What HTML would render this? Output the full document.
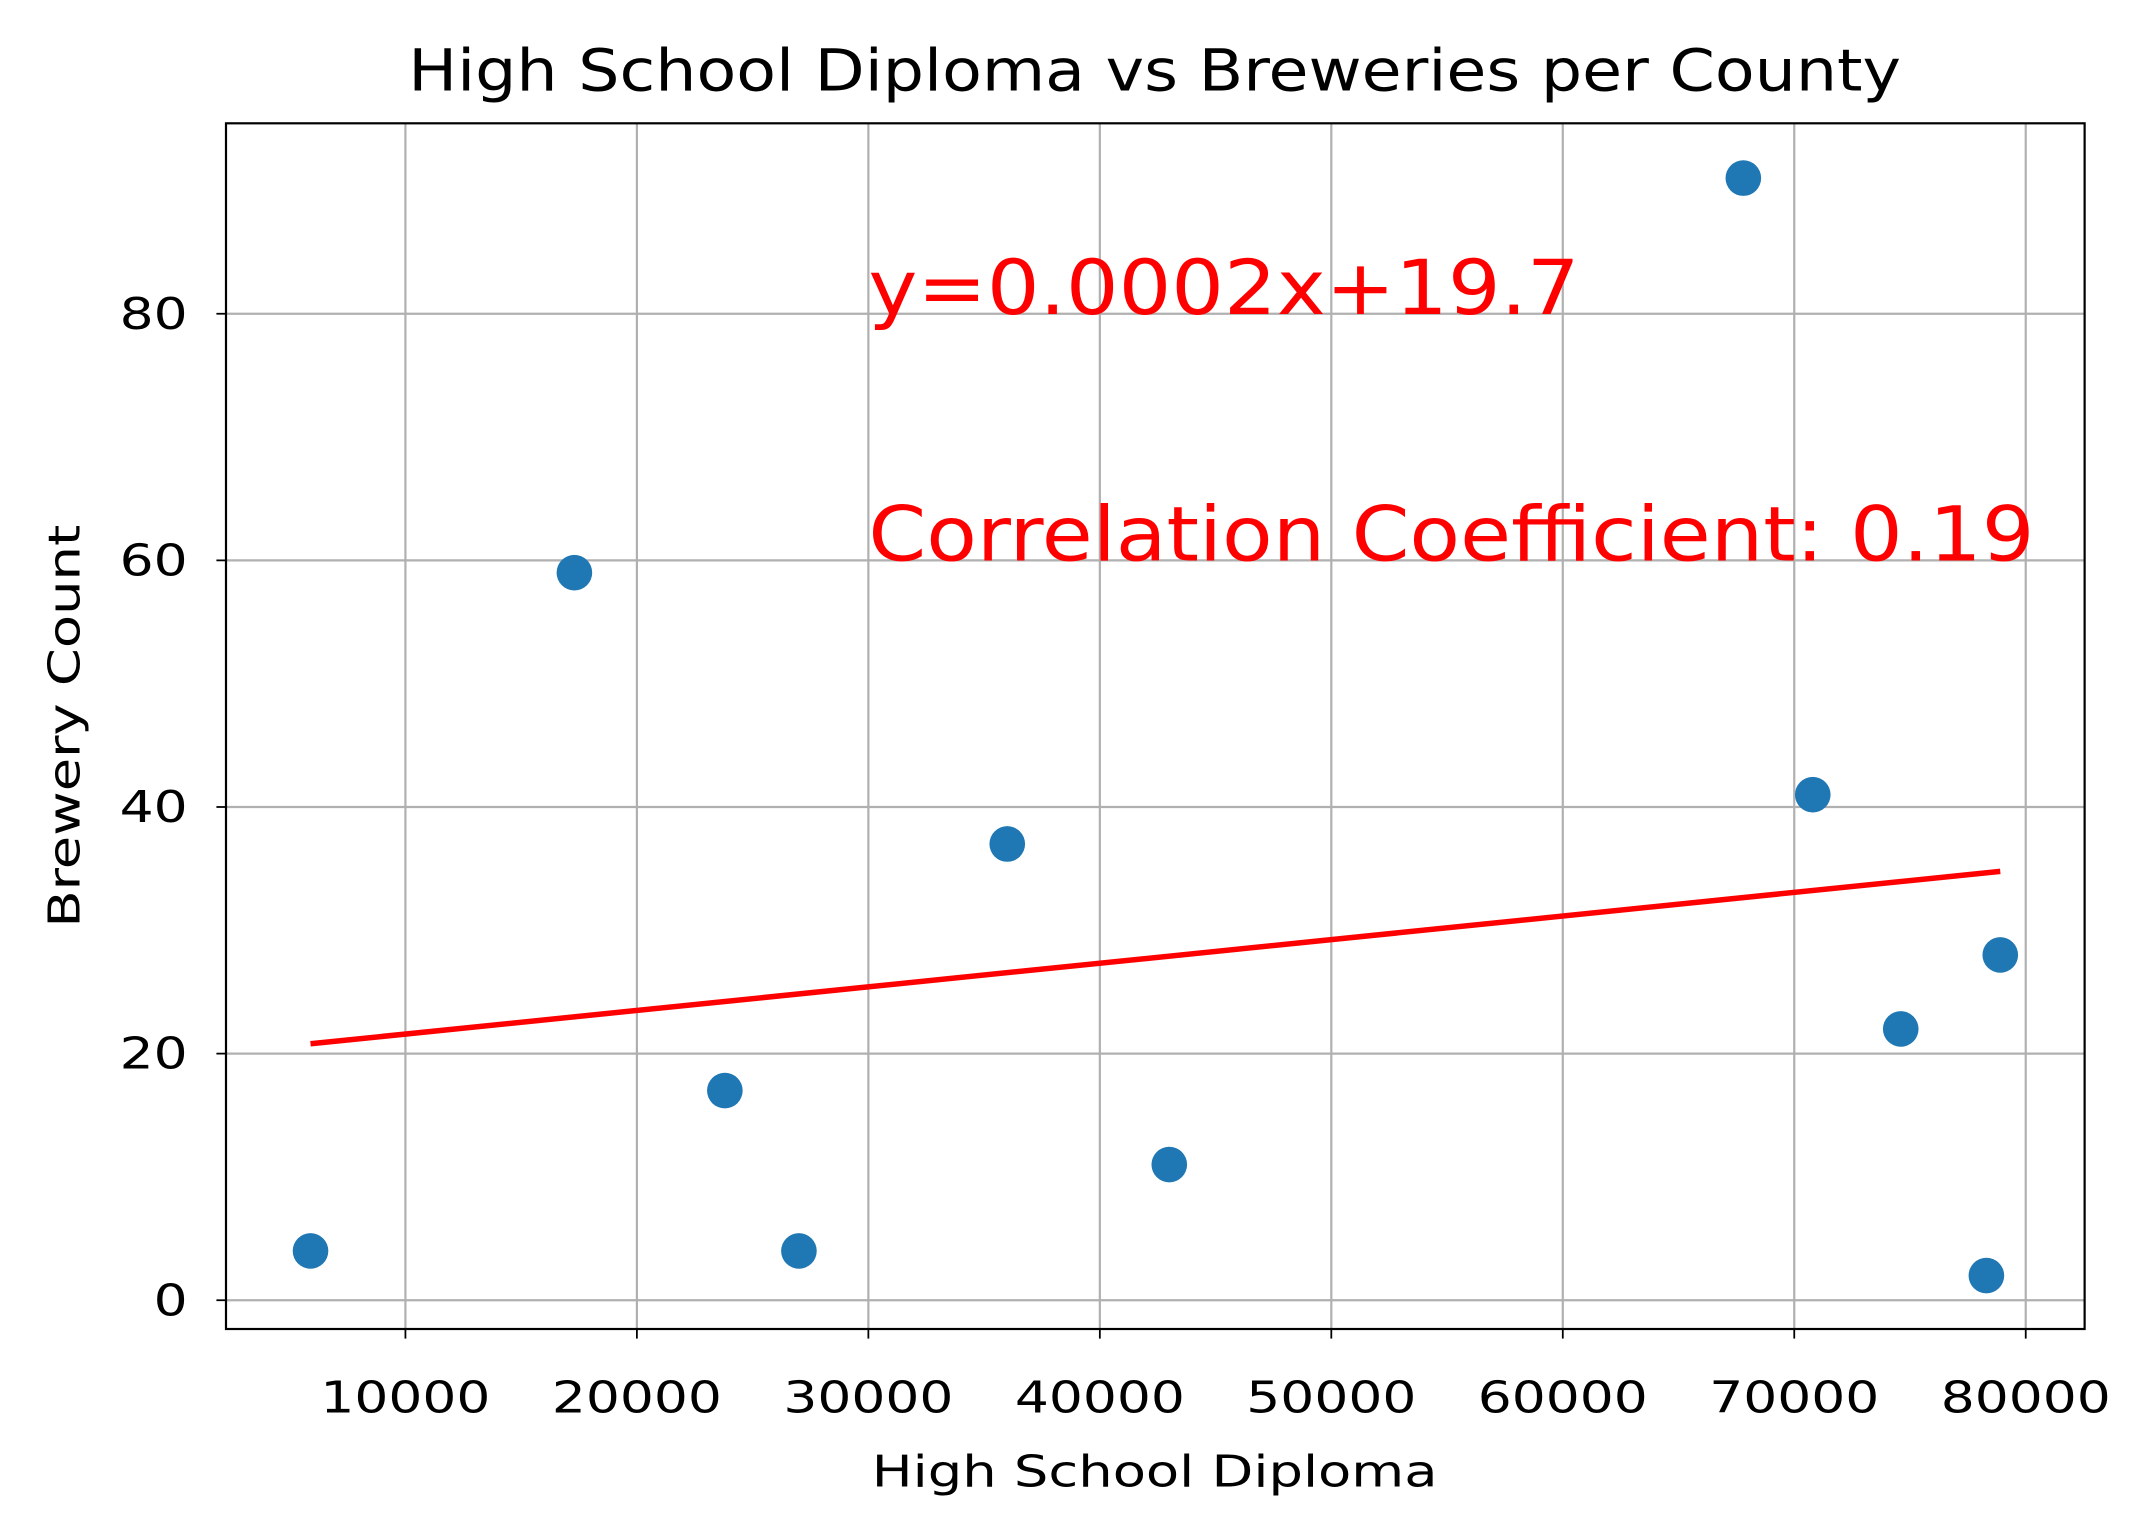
<!DOCTYPE html>
<html><head><meta charset="utf-8"><style>
html,body{margin:0;padding:0;background:#fff;}
svg{display:block;font-family:"DejaVu Sans","Liberation Sans",sans-serif;}
</style></head><body>
<svg id="chart" width="2149" height="1540" viewBox="0 0 1569 1124" preserveAspectRatio="none" xmlns="http://www.w3.org/2000/svg">
<rect x="0" y="0" width="1569" height="1124" fill="#fff"/>
<g id="grid"></g>
<g id="line"></g>
<g id="points"></g>
<g id="ticks"></g>
<rect x="165" y="90" width="1357" height="880" fill="none" stroke="#000" stroke-width="1.6"/>
<text transform="translate(843,66) scale(1.13,1)" font-size="42" text-anchor="middle">High School Diploma vs Breweries per County</text>
<text transform="translate(843,1085) scale(1.24,1)" font-size="32" text-anchor="middle">High School Diploma</text>
<text transform="translate(58,530) rotate(-90) scale(1.24,1)" font-size="32" text-anchor="middle">Brewery Count</text>
<g id="annot"></g>
</svg>
<script>
const xVals=[5900,17300,23800,27000,36000,43000,67800,70800,74600,78300,78900];
const yVals=[4,59,17,4,37,11,91,41,22,2,28];
const xTicks=[10000,20000,30000,40000,50000,60000,70000,80000];
const yTicks=[0,20,40,60,80];
const slope=0.0001915, intercept=19.67;
const eqLabel="y=0.0002x+19.7", corrLabel="Correlation Coefficient: 0.19";
const NS="http://www.w3.org/2000/svg";
function X(v){return 296+(v-10000)/10000*169;}
function Y(v){return 949-v*9;}
function mk(tag,attrs,parent){const e=document.createElementNS(NS,tag);for(const k in attrs)e.setAttribute(k,attrs[k]);document.getElementById(parent).appendChild(e);return e;}
xTicks.forEach(t=>{
 const g=mk('line',{x1:X(t),x2:X(t),y1:90,y2:970,stroke:'#b0b0b0','stroke-width':1.6},'grid');
 
 
 mk('line',{x1:X(t),x2:X(t),y1:970,y2:977,stroke:'#000','stroke-width':1.3},'ticks');
 const tx=mk('text',{transform:'translate('+X(t)+',1031) scale(1.22,1)','font-size':32,'text-anchor':'middle'},'ticks');
 tx.textContent=t;
 
 
});
yTicks.forEach(t=>{
 const g=mk('line',{x1:165,x2:1522,y1:Y(t),y2:Y(t),stroke:'#b0b0b0','stroke-width':1.6},'grid');
 
 
 mk('line',{x1:158,x2:165,y1:Y(t),y2:Y(t),stroke:'#000','stroke-width':1.3},'ticks');
 const tx=mk('text',{transform:'translate(137,'+(Y(t)+11)+') scale(1.22,1)','font-size':32,'text-anchor':'end'},'ticks');
 tx.textContent=t;
 
 
});
const xmin=Math.min(...xVals), xmax=Math.max(...xVals);
const ln=mk('line',{x1:X(xmin),y1:Y(slope*xmin+intercept),x2:X(xmax),y2:Y(slope*xmax+intercept),stroke:'#ff0000','stroke-width':4},'line');


xVals.forEach((v,i)=>{
 const c=mk('circle',{cx:X(v),cy:Y(yVals[i]),r:13,fill:'#1f77b4'},'points');
 
 
});
const a1=mk('text',{transform:'translate('+X(30000)+','+Y(80)+') scale(1.1,1)','font-size':55,fill:'#ff0000'},'annot');
a1.textContent=eqLabel;


const a2=mk('text',{transform:'translate('+X(30000)+','+Y(60)+') scale(1.1,1)','font-size':55,fill:'#ff0000'},'annot');
a2.textContent=corrLabel;


</script>
</body></html>
